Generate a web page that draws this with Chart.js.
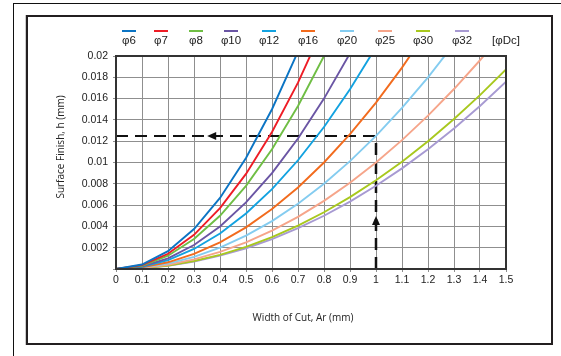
<!DOCTYPE html>
<html>
<head>
<meta charset="utf-8">
<script src="https://cdn.jsdelivr.net/npm/chart.js@4.4.1/dist/chart.umd.min.js"></script>
<style>
  body { margin: 0; background: #fff; }
  #wrap { position: relative; width: 561px; height: 356px; overflow: hidden; }
  .outer { position: absolute; left: 13px; top: 3px; right: 0; bottom: -2px; border-top: 1px solid #111; border-left: 1px solid #111; }
  .inner { position: absolute; left: 26px; top: 15px; width: 523px; height: 326px; border: 2px solid #231f20; box-shadow: -1px 0 0 #ccc; }
  canvas { position: absolute; left: 0; top: 0; }
</style>
</head>
<body>
<div id="wrap">
  <div class="outer"></div>
  <div class="inner"></div>
  <canvas id="grafico" width="561" height="356"></canvas>
</div>
<script>
// Largura de corte (mm)
const widthOfCut = [0, 0.1, 0.2, 0.3, 0.4, 0.5, 0.6, 0.7, 0.8, 0.9, 1.0, 1.1, 1.2, 1.3, 1.4, 1.5];
const diameters = ["φ6", "φ7", "φ8", "φ10", "φ12", "φ16", "φ20", "φ25", "φ30", "φ32"];

// Rugosidade h (mm), uma lista por diâmetro
const h6 = [0, 0.00042, 0.00167, 0.00375, 0.00667, 0.01042, 0.015, 0.02042];
const h7 = [0, 0.00036, 0.00143, 0.00321, 0.00571, 0.00893, 0.01286, 0.0175, 0.02286];
const h8 = [0, 0.00031, 0.00125, 0.00281, 0.005, 0.00781, 0.01125, 0.01531, 0.02];
const h10 = [0, 0.00025, 0.001, 0.00225, 0.004, 0.00625, 0.009, 0.01225, 0.016, 0.02025];
const h12 = [0, 0.00021, 0.00083, 0.00188, 0.00333, 0.00521, 0.0075, 0.01021, 0.01333, 0.01688, 0.02083];
const h16 = [0, 0.00016, 0.00063, 0.00141, 0.0025, 0.00391, 0.00563, 0.00766, 0.01, 0.01266, 0.01563, 0.01891, 0.0225];
const h20 = [0, 0.00013, 0.0005, 0.00113, 0.002, 0.00313, 0.0045, 0.00613, 0.008, 0.01013, 0.0125, 0.01513, 0.018, 0.02113];
const h25 = [0, 0.0001, 0.0004, 0.0009, 0.0016, 0.0025, 0.0036, 0.0049, 0.0064, 0.0081, 0.01, 0.0121, 0.0144, 0.0169, 0.0196, 0.0225];
const h30 = [0, 0.00008, 0.00033, 0.00075, 0.00133, 0.00208, 0.003, 0.00408, 0.00533, 0.00675, 0.00833, 0.01008, 0.012, 0.01408, 0.01633, 0.01875];
const h32 = [0, 0.00008, 0.00031, 0.0007, 0.00125, 0.00195, 0.00281, 0.00383, 0.005, 0.00633, 0.00781, 0.00945, 0.01125, 0.0132, 0.01531, 0.01758];
const series = [h6, h7, h8, h10, h12, h16, h20, h25, h30, h32];

// exemplo de leitura: Ar = 1 mm com φ20 -> h = 0.0125 mm
const exampleAr = 1.0;
const exampleH = 0.0125;

const colors = ["#0b74c4", "#ee1c25", "#6fbe44", "#6a55a4", "#12a2e0", "#f26b1d", "#84ccf0", "#f6a58a", "#a8c81e", "#a79ad2"];
const legendX = [129, 161, 196, 231, 269, 308, 347, 385, 423, 462];

const datasets = series.map((vals, i) => ({
  label: diameters[i],
  data: vals.map((y, j) => ({ x: widthOfCut[j], y: y })),
  borderColor: colors[i],
  borderWidth: 1.9,
  pointRadius: 0,
  tension: 0,
  clip: 0,
}));

// linhas tracejadas do exemplo
datasets.push({
  label: "guiaH",
  data: [{ x: 0, y: exampleH }, { x: exampleAr, y: exampleH }],
  borderColor: "#111",
  borderWidth: 2,
  borderDash: [12, 7],
  pointRadius: 0,
  clip: 0,
});
datasets.push({
  label: "guiaV",
  data: [{ x: exampleAr, y: 0 }, { x: exampleAr, y: exampleH }],
  borderColor: "#111",
  borderWidth: 2.5,
  borderDash: [12, 7],
  pointRadius: 0,
  clip: 0,
});

const extras = {
  id: "extras",
  afterDatasetsDraw(chart) {
    const c = chart.ctx;
    const xs = chart.scales.x, ys = chart.scales.y;
    const a = chart.chartArea;
    c.save();
    // moldura do gráfico
    c.strokeStyle = "#333";
    c.lineWidth = 2;
    c.strokeRect(a.left, a.top, a.right - a.left, a.bottom - a.top);
    // setas
    c.fillStyle = "#111";
    let px = xs.getPixelForValue(0.37), py = ys.getPixelForValue(exampleH);
    c.beginPath();
    c.moveTo(px - 5, py); c.lineTo(px + 4, py - 4); c.lineTo(px + 4, py + 4); c.closePath(); c.fill();
    px = xs.getPixelForValue(exampleAr); py = ys.getPixelForValue(0.0045);
    c.beginPath();
    c.moveTo(px, py - 5); c.lineTo(px - 4, py + 4); c.lineTo(px + 4, py + 4); c.closePath(); c.fill();

    // legenda
    c.font = "11.5px 'Liberation Sans', Arial, sans-serif";
    c.textAlign = "center";
    c.textBaseline = "middle";
    diameters.forEach((d, i) => {
      c.strokeStyle = colors[i];
      c.lineWidth = 2;
      c.beginPath();
      c.moveTo(legendX[i] - 7, 31); c.lineTo(legendX[i] + 7, 31); c.stroke();
      c.fillStyle = "#222";
      c.fillText(d, legendX[i], 41);
    });
    c.fillText("[φDc]", 506, 41);

    // títulos dos eixos
    c.font = "10px 'Open Sans', sans-serif";
    c.fillStyle = "#222";
    c.fillText("Width of Cut, Ar (mm)", 303, 318);
    c.translate(61, 147);
    c.rotate(-Math.PI / 2);
    c.fillText("Surface Finish, h (mm)", 0, 0);
    c.restore();
  },
};

const tickFont = { family: "'Liberation Sans', Arial, sans-serif", size: 10.5 };

new Chart(document.getElementById("grafico"), {
  type: "line",
  data: { datasets: datasets },
  options: {
    responsive: false,
    animation: false,
    layout: { padding: { left: 60, top: 56, right: 55, bottom: 0 } },
    plugins: { legend: { display: false }, tooltip: { enabled: false } },
    scales: {
      x: {
        type: "linear",
        min: 0,
        max: 1.5,
        afterFit: (s) => { s.height = 87; },
        ticks: {
          stepSize: 0.1,
          color: "#222",
          font: tickFont,
          padding: 2,
          maxRotation: 0,
          autoSkip: false,
          callback: (v) => String(Math.round(v * 10) / 10),
        },
        grid: { color: "#8f8f8f", tickLength: 3 },
        border: { color: "#333", width: 2 },
      },
      y: {
        min: 0,
        max: 0.02,
        afterFit: (s) => { s.width = 56; },
        ticks: {
          stepSize: 0.002,
          color: "#222",
          font: tickFont,
          padding: 5,
          callback: (v) => (v === 0 ? "" : String(Math.round(v * 1000) / 1000)),
        },
        grid: { color: "#8f8f8f", tickLength: 3 },
        border: { color: "#333", width: 2 },
      },
    },
  },
  plugins: [extras],
});
</script>
</body>
</html>
